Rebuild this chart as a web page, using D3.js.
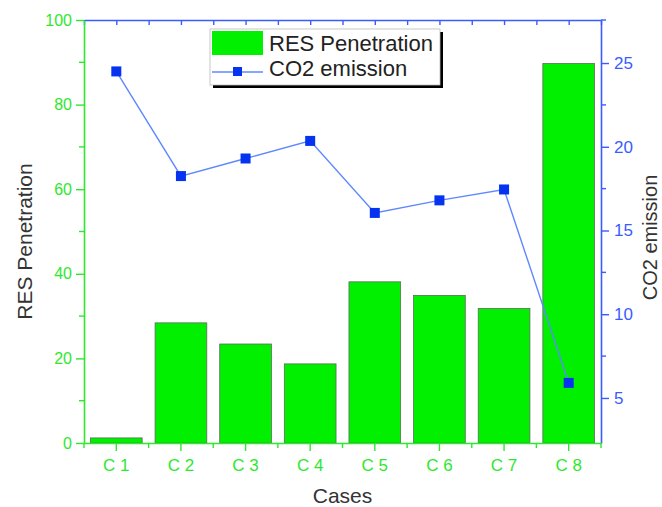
<!DOCTYPE html>
<html>
<head>
<meta charset="utf-8">
<script src="https://cdn.jsdelivr.net/npm/d3@7"></script>
<style>
  body { margin: 0; background: #fff; }
  text { font-family: "Liberation Sans", Arial, sans-serif; }
</style>
</head>
<body>
<div id="graph-container"></div>
<script>
const cases = ['C 1', 'C 2', 'C 3', 'C 4', 'C 5', 'C 6', 'C 7', 'C 8'];
const resPenetration = [1.2, 28.4, 23.4, 18.7, 38.1, 34.9, 31.8, 89.7];
const co2Emission = [24.5, 18.25, 19.3, 20.35, 16.05, 16.8, 17.45, 5.9];
const leftTicks = [0, 20, 40, 60, 80, 100];
const rightTicks = [5, 10, 15, 20, 25];

const
    WIDTH = 662,
    HEIGHT = 507;

const margin = {
    top: 20,
    bottom: 64,
    left: 84,
    right: 61,
};

const width = WIDTH - margin.left - margin.right,
    height = HEIGHT - margin.top - margin.bottom;

const GREEN = '#2ee82e',
    BLUE = '#3a5cff',
    BAR = '#00f000',
    LINE = '#5f88ff',
    MARK = '#0533f0';

const svg = d3.select('#graph-container').append('svg')
    .attr('width', WIDTH)
    .attr('height', HEIGHT);

const container = svg.append('g')
    .attr('transform', `translate(${margin.left} ${margin.top})`);

const xScale = d3.scaleBand()
    .domain(cases)
    .range([0, width])
    .paddingInner(0.2)
    .paddingOuter(0.1);

const yLeft = d3.scaleLinear()
    .domain([0, 100])
    .range([height, 0]);

const yRight = d3.scaleLinear()
    .domain([2.31, 27.57])
    .range([height, 0]);

const step = xScale.step();
const centers = cases.map((c) => xScale(c) + xScale.bandwidth() / 2);
const bounds = d3.range(cases.length + 1).map((i) => i * step);

// bars
container.selectAll('rect.bar')
    .data(cases)
    .join('rect')
    .attr('class', 'bar')
    .attr('x', (d) => xScale(d))
    .attr('width', xScale.bandwidth())
    .attr('y', (d, i) => yLeft(resPenetration[i]))
    .attr('height', (d, i) => height - yLeft(resPenetration[i]))
    .attr('fill', BAR)
    .attr('stroke', '#5d6a5d')
    .attr('stroke-width', 0.8);

// line
const line = d3.line()
    .x((d, i) => centers[i])
    .y((d) => yRight(d));

container.append('path')
    .datum(co2Emission)
    .attr('d', line)
    .attr('fill', 'none')
    .attr('stroke', LINE)
    .attr('stroke-width', 1.4);

container.selectAll('rect.mark')
    .data(co2Emission)
    .join('rect')
    .attr('class', 'mark')
    .attr('x', (d, i) => centers[i] - 5)
    .attr('y', (d) => yRight(d) - 5)
    .attr('width', 10)
    .attr('height', 10)
    .attr('fill', MARK);

/////////////////////// Axes /////////////////////////////

const styleAxis = (g, color, size) => {
    g.select('.domain').attr('stroke', color).attr('stroke-width', 1.6);
    g.selectAll('line').attr('stroke', color).attr('stroke-width', 1.4);
    g.selectAll('text')
        .attr('fill', color)
        .style('font-size', size + 'px')
        .style('font-family', '"Liberation Sans", Arial, sans-serif');
};

// top (blue, inward ticks)
const topAxis = container.append('g')
    .call(d3.axisTop(d3.scaleLinear().domain([0, width]).range([0, width]))
        .tickValues(centers.concat(bounds)).tickSize(-5).tickSizeOuter(0).tickFormat(''));
styleAxis(topAxis, BLUE, 16);

// right (blue)
const rightAxis = container.append('g')
    .attr('transform', `translate(${width}, 0)`)
    .call(d3.axisRight(yRight).tickValues(rightTicks).tickSize(8).tickSizeOuter(0).tickPadding(5));
styleAxis(rightAxis, BLUE, 17);
rightAxis.selectAll('.minor')
    .data([7.5, 12.5, 17.5, 22.5])
    .join('line')
    .attr('class', 'minor')
    .attr('x2', 5)
    .attr('y1', (d) => yRight(d))
    .attr('y2', (d) => yRight(d))
    .attr('stroke', BLUE)
    .attr('stroke-width', 1.4);
rightAxis.append('line')
    .attr('x2', 5).attr('y1', 0).attr('y2', 0)
    .attr('stroke', BLUE).attr('stroke-width', 1.4);

// bottom (green)
const bottomAxis = container.append('g')
    .attr('transform', `translate(0, ${height})`)
    .call(d3.axisBottom(xScale).tickSize(8).tickSizeOuter(0).tickPadding(8));
styleAxis(bottomAxis, GREEN, 17);
bottomAxis.selectAll('.minor')
    .data(bounds)
    .join('line')
    .attr('class', 'minor')
    .attr('x1', (d) => d)
    .attr('x2', (d) => d)
    .attr('y2', 5)
    .attr('stroke', GREEN)
    .attr('stroke-width', 1.4);

// left (green)
const leftAxis = container.append('g')
    .call(d3.axisLeft(yLeft).tickValues(leftTicks).tickSize(8).tickSizeOuter(0).tickPadding(4));
styleAxis(leftAxis, GREEN, 16);
leftAxis.selectAll('.minor')
    .data([10, 30, 50, 70, 90])
    .join('line')
    .attr('class', 'minor')
    .attr('x2', -5)
    .attr('y1', (d) => yLeft(d))
    .attr('y2', (d) => yLeft(d))
    .attr('stroke', GREEN)
    .attr('stroke-width', 1.4);

/////////////////////// Titles /////////////////////////////

svg.append('text')
    .attr('x', margin.left + width / 2)
    .attr('y', 503)
    .attr('text-anchor', 'middle')
    .attr('fill', '#333')
    .style('font-size', '21px')
    .text('Cases');

svg.append('text')
    .attr('transform', `translate(32, ${margin.top + height / 2 + 10}) rotate(-90)`)
    .attr('text-anchor', 'middle')
    .attr('fill', '#333')
    .style('font-size', '21px')
    .text('RES Penetration');

svg.append('text')
    .attr('transform', `translate(657, ${margin.top + height / 2 + 6}) rotate(-90)`)
    .attr('text-anchor', 'middle')
    .attr('fill', '#333')
    .style('font-size', '20px')
    .text('CO2 emission');

/////////////////////// Legend /////////////////////////////

const legend = svg.append('g').attr('transform', 'translate(210, 29)');
legend.append('rect')
    .attr('x', 3).attr('y', 3).attr('width', 230).attr('height', 56)
    .attr('fill', '#000');
legend.append('rect')
    .attr('x', 0).attr('y', 0).attr('width', 230).attr('height', 56)
    .attr('fill', '#fff').attr('stroke', '#bbb').attr('stroke-width', 0.8);
legend.append('rect')
    .attr('x', 2).attr('y', 2).attr('width', 51).attr('height', 24)
    .attr('fill', BAR);
legend.append('line')
    .attr('x1', 2).attr('x2', 53).attr('y1', 43).attr('y2', 43)
    .attr('stroke', LINE).attr('stroke-width', 1.4);
legend.append('rect')
    .attr('x', 23).attr('y', 38).attr('width', 9).attr('height', 9)
    .attr('fill', MARK);
legend.selectAll('text.leg')
    .data(['RES Penetration', 'CO2 emission'])
    .join('text')
    .attr('class', 'leg')
    .attr('x', 59)
    .attr('y', (d, i) => 22 + i * 25)
    .attr('fill', '#222')
    .style('font-size', '22px')
    .text((d) => d);
</script>
</body>
</html>
